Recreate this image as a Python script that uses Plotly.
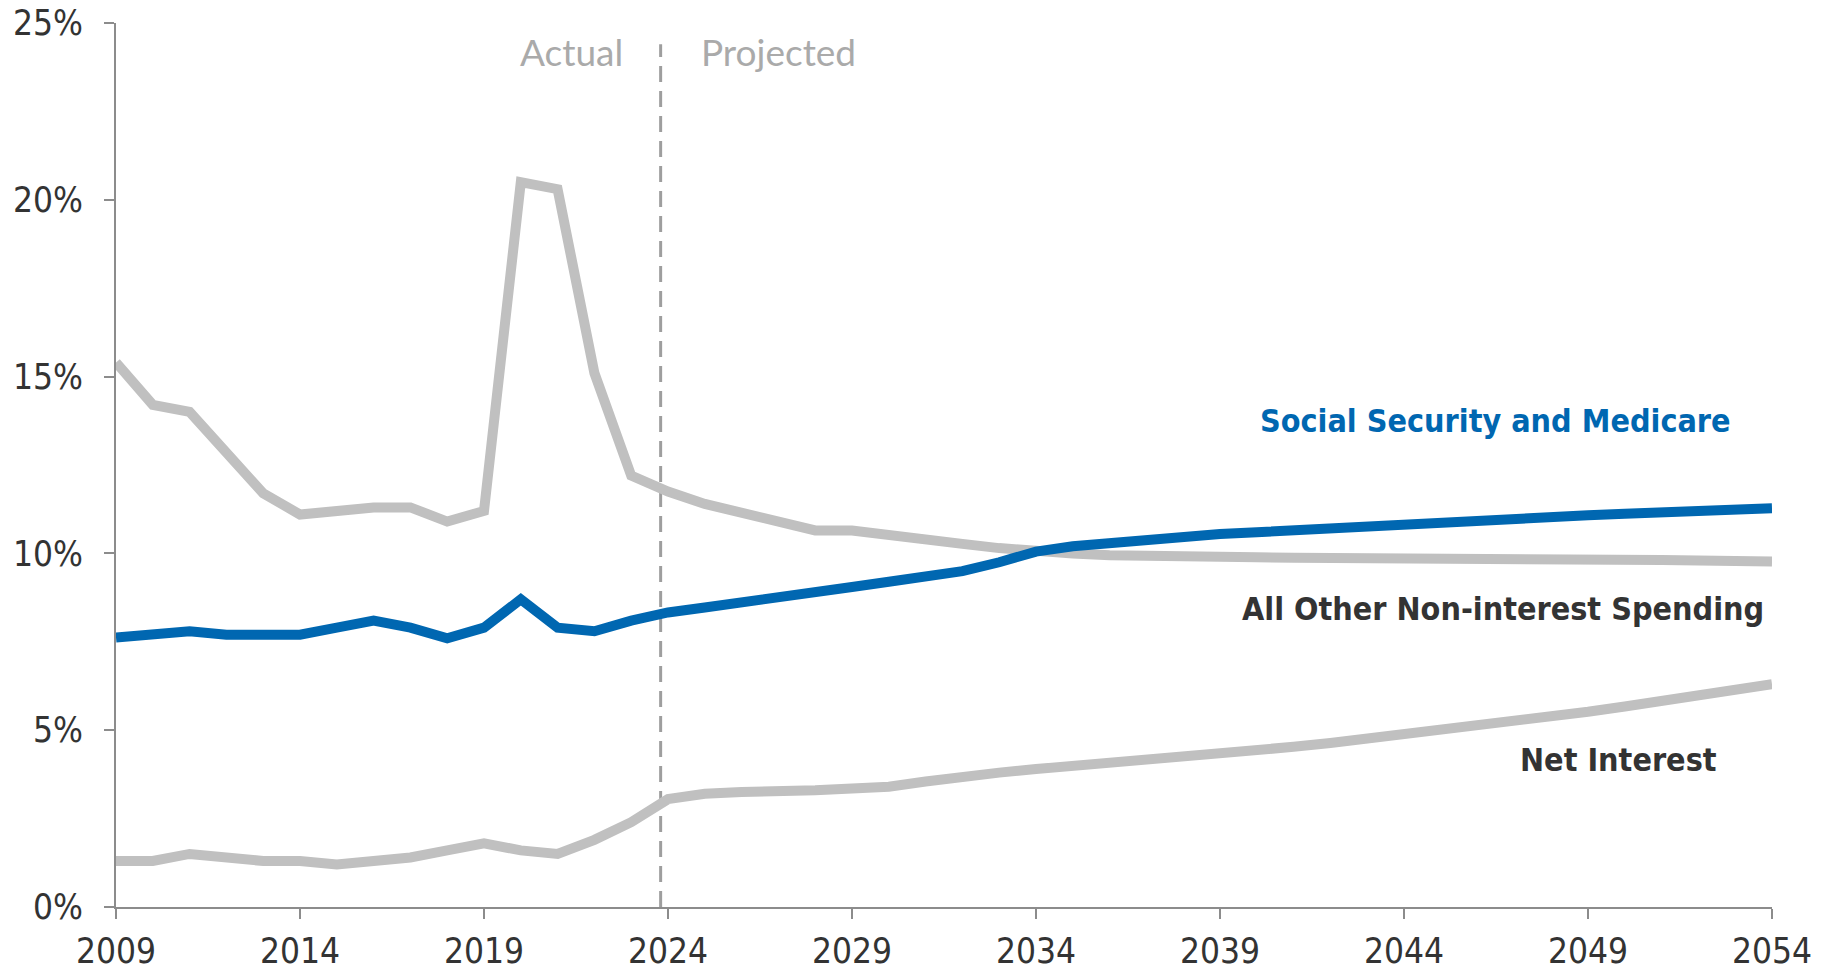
import plotly.graph_objects as go

years = list(range(2009, 2055))

all_other = [15.4, 14.2, 14.0, 12.85, 11.7, 11.1, 11.2, 11.3, 11.3, 10.9,
             11.2, 20.5, 20.3, 15.1, 12.2, 11.75, 11.4, 11.15, 10.9, 10.65,
             10.65, 10.5, 10.38, 10.27, 10.15, 10.05, 10.0, 9.95, 9.92, 9.9,
             9.9, 9.89, 9.88, 9.88, 9.87, 9.87, 9.86, 9.85, 9.84, 9.84,
             9.83, 9.82, 9.81, 9.8, 9.79, 9.77]

ss_medicare = [7.62, 7.7, 7.8, 7.7, 7.7, 7.7, 7.9, 8.1, 7.9, 7.6,
               7.9, 8.7, 7.9, 7.8, 8.1, 8.33, 8.47, 8.6, 8.75, 8.9,
               9.05, 9.2, 9.35, 9.5, 9.75, 10.05, 10.2, 10.3, 10.4, 10.48,
               10.55, 10.6, 10.66, 10.72, 10.77, 10.84, 10.9, 10.95, 11.0, 11.04,
               11.08, 11.12, 11.17, 11.21, 11.25, 11.28]

net_interest = [1.3, 1.3, 1.5, 1.4, 1.3, 1.3, 1.2, 1.3, 1.4, 1.6,
                1.8, 1.6, 1.5, 1.9, 2.4, 3.05, 3.2, 3.25, 3.25, 3.3,
                3.35, 3.4, 3.55, 3.7, 3.8, 3.9, 3.98, 4.06, 4.15, 4.24,
                4.33, 4.43, 4.53, 4.64, 4.76, 4.88, 4.98, 5.1, 5.23, 5.37,
                5.52, 5.67, 5.82, 5.97, 6.13, 6.3]

divider_year = 2023.8
x_ticks = [2009, 2014, 2019, 2024, 2029, 2034, 2039, 2044, 2049, 2054]
y_ticks = [0, 5, 10, 15, 20, 25]
y_tick_text = ["0%", "5%", "10%", "15%", "20%", "25%"]

BLUE = "#0067B1"
GRAY = "#C0C0C0"
AXIS = "#8C8C8C"
TXT = "#333333"
NARROW = "Liberation Sans Narrow, DejaVu Sans Condensed, Arial Narrow, sans-serif"

fig = go.Figure()

fig.add_trace(go.Scatter(x=[divider_year, divider_year], y=[0, 24.4], mode="lines",
                         line=dict(color="#9E9E9E", width=3, dash="16px,9px"),
                         hoverinfo="skip", showlegend=False))
fig.add_trace(go.Scatter(x=years, y=net_interest, mode="lines",
                         line=dict(color=GRAY, width=10), name="Net Interest", showlegend=False))
fig.add_trace(go.Scatter(x=years, y=all_other, mode="lines",
                         line=dict(color=GRAY, width=10), name="All Other Non-interest Spending",
                         showlegend=False))
fig.add_trace(go.Scatter(x=years, y=ss_medicare, mode="lines",
                         line=dict(color=BLUE, width=10), name="Social Security and Medicare",
                         showlegend=False))

annots = [
    dict(x=2052.95, y=13.74, text="<b>Social Security and Medicare</b>", color=BLUE, xanchor="right"),
    dict(x=2053.83, y=8.44, text="<b>All Other Non-interest Spending</b>", color=TXT, xanchor="right"),
    dict(x=2052.57, y=4.17, text="<b>Net Interest</b>", color=TXT, xanchor="right"),
]
for a in annots:
    fig.add_annotation(x=a["x"], y=a["y"], xref="x", yref="y", text=a["text"], showarrow=False,
                       xanchor=a["xanchor"], yanchor="middle",
                       font=dict(family=NARROW, size=32, color=a["color"]))

fig.add_annotation(x=2022.84, y=24.19, xref="x", yref="y", text="Actual", showarrow=False,
                   xanchor="right", yanchor="middle", font=dict(family="Lato", size=37, color="#AAAAAA"))
fig.add_annotation(x=2024.85, y=24.19, xref="x", yref="y", text="Projected", showarrow=False,
                   xanchor="left", yanchor="middle", font=dict(family="Lato", size=37, color="#AAAAAA"))

fig.update_layout(
    width=1825, height=962, autosize=False,
    paper_bgcolor="white", plot_bgcolor="white",
    margin=dict(l=108, r=61, t=15, b=63),
    showlegend=False,
    xaxis=dict(range=[2009, 2054], tickvals=x_ticks, ticktext=[str(t) for t in x_ticks],
               showgrid=False, zeroline=False, showline=True, linecolor=AXIS, linewidth=2,
               ticks="outside", ticklen=10, tickwidth=2, tickcolor=AXIS, automargin=False,
               ticklabelstandoff=2, ticklabeloverflow="allow",
               tickfont=dict(family=NARROW, size=35, color=TXT)),
    yaxis=dict(range=[0, 25], tickvals=y_ticks, ticktext=y_tick_text,
               showgrid=False, zeroline=False, showline=True, linecolor=AXIS, linewidth=2,
               ticks="outside", ticklen=10, tickwidth=2, tickcolor=AXIS, automargin=False,
               ticklabelstandoff=14, ticklabeloverflow="allow",
               tickfont=dict(family=NARROW, size=35, color=TXT)),
)

fig.write_html("out.html")
